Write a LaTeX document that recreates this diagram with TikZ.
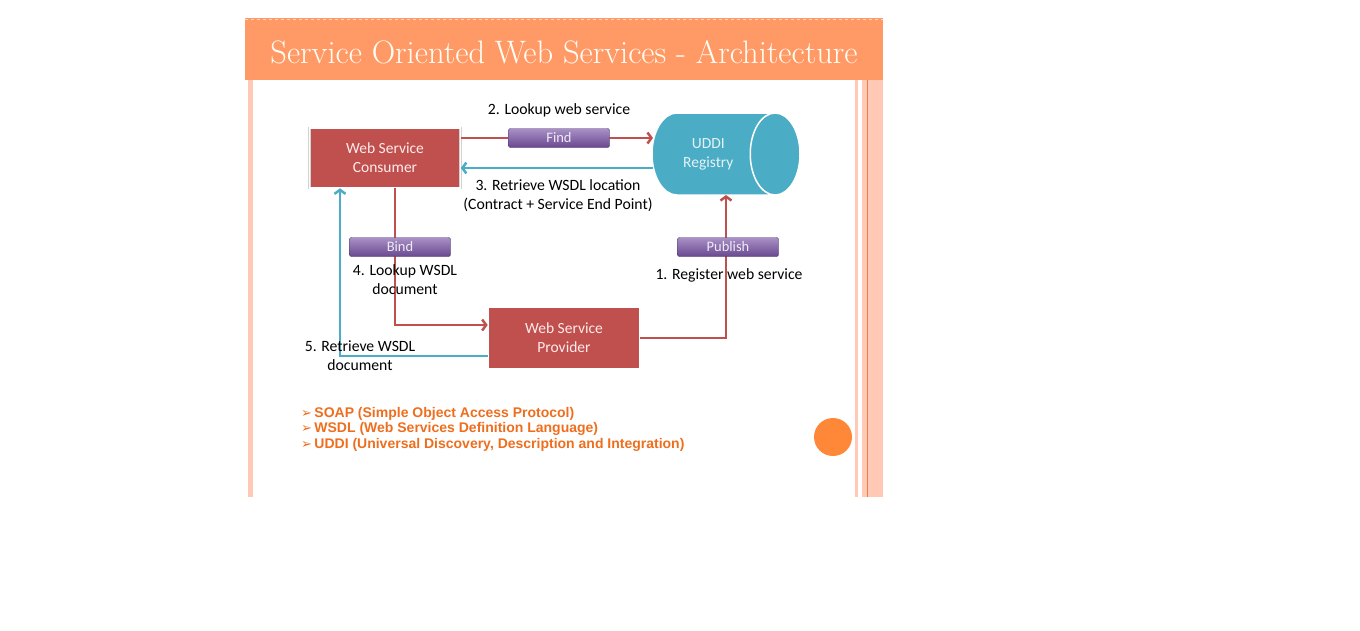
\documentclass[tikz,border=0pt]{standalone}
\usepackage{fontspec}
\usetikzlibrary{shapes.geometric,arrows.meta}
\newfontfamily\calibri{Carlito}
\newfontfamily\arial{Liberation Sans}
\newfontfamily\dejavu{DejaVu Sans}
\definecolor{titleor}{HTML}{FF9966}
\definecolor{stripeor}{HTML}{FFC9B6}
\definecolor{lineor}{HTML}{E8804F}
\definecolor{boxred}{HTML}{C0504D}
\definecolor{uddiblue}{HTML}{4BACC6}
\definecolor{btnpurple}{HTML}{7B55A8}
\definecolor{listor}{HTML}{EE6E1E}
\definecolor{dotor}{HTML}{FF8838}
\newcommand{\labbtn}[3]{
\node[btn] (#1) at (#2) {#3};
}
\newcommand{\bul}{{\dejavu\fontsize{13}{13}\selectfont ➢}\,}

\begin{document}
\begin{tikzpicture}[x=1pt,y=-1pt,
  wsbox/.style={fill=boxred,draw=gray!35,double=white,double distance=1.2pt,line width=.6pt,
    minimum width=151,minimum height=60,align=center,text=red!8,font=\calibri\fontsize{15.5}{19}\selectfont},
  btn/.style={top color=btnpurple!65!white,bottom color=btnpurple!85!black,draw=btnpurple!60!black,
    rounded corners=2pt,minimum width=101,minimum height=19,inner sep=0pt,text=white!88!btnpurple,
    font=\calibri\fontsize{14.5}{16}\selectfont},
  lab/.style={align=center,font=\calibri\fontsize{15.7}{19}\selectfont},
  redarrow/.style={draw=boxred,line width=2.5pt,-{Straight Barb[length=4pt,width=11pt]}},
  bluearrow/.style={draw=uddiblue,line width=2.5pt,-{Straight Barb[length=4pt,width=11pt]}}]
\useasboundingbox (0,0) rectangle (1360,630);
% slide frame
\fill[stripeor] (248,80) rectangle (253,497);
\fill[stripeor] (855,80) rectangle (858,497);
\fill[stripeor] (862,80) rectangle (883,497);
\draw[lineor,line width=1pt] (867.5,80) -- (867.5,497);
\fill[titleor] (245,18) rectangle (883,80);
\draw[white!60!titleor,dashed,line width=1pt] (245,19) -- (883,19);
\path (564,52) node[text=white!96!yellow,font=\fontsize{32.5}{36}\selectfont] (title) {Service Oriented Web Services - Architecture};

% components
\node[wsbox] (consumer) at (385,158) {Web Service\\Consumer};
\node[wsbox,minimum width=152,minimum height=62] (provider) at (564,338) {Web Service\\Provider};
\node[cylinder,shape aspect=1.3,anchor=shape center,minimum width=82,minimum height=148,
  fill=uddiblue,draw=white,line width=1.5pt,align=center,text=white!85!uddiblue,
  font=\calibri\fontsize{15.5}{19}\selectfont] (uddi) at (726,154) {UDDI\\Registry};
\coordinate (uddiin) at (653,138);
\coordinate (uddiout) at (653,168);
\coordinate (uddibot) at (726,195);

% connectors
\draw[redarrow] ([yshift=20pt]consumer.east) -- (uddiin);
\draw[bluearrow] (uddiout) -- ([yshift=-10pt]consumer.east);
\draw[redarrow] ([xshift=10pt]consumer.south) |- ([yshift=13pt]provider.west);
\draw[bluearrow] ([yshift=-18pt]provider.west) -| ([xshift=-45pt]consumer.south);
\draw[redarrow] (provider.east) -| (uddibot);

% buttons
\labbtn{find}{559,138}{Find}
\labbtn{bind}{400,247}{Bind}
\labbtn{publish}{728,247}{Publish}

% labels
\node[lab] (lookupws) at (559,110) {2. Lookup web service};
\node[lab] (retrloc) at (558,196) {3. Retrieve WSDL location\\(Contract + Service End Point)};
\node[lab] (lookupdoc) at (405,280) {4. Lookup WSDL\\document};
\node[lab] (register) at (729,275) {1. Register web service};
\node[lab] (retrdoc) at (360,356) {5. Retrieve WSDL\\document};

% acronyms
\node[anchor=west,align=left,inner sep=0pt,text=listor,font=\arial\bfseries\fontsize{14}{15.5}\selectfont]
  (acronyms) at (301,429) {\bul SOAP (Simple Object Access Protocol)\\
  \bul WSDL (Web Services Definition Language)\\
  \bul UDDI (Universal Discovery, Description and Integration)};
\fill[dotor] (833,437) circle (19);
\end{tikzpicture}
\end{document}
